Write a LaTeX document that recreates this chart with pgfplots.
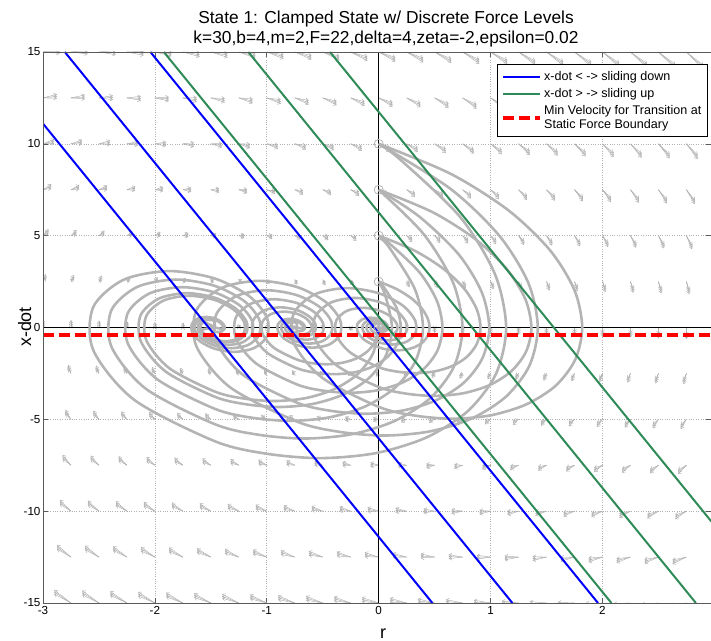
\documentclass[border=0pt]{standalone}
\usepackage{fontspec}
\setmainfont{Liberation Sans}
\usepackage{pgfplots}
\usepackage{pgfplotstable}
\pgfplotsset{compat=1.18}
\usetikzlibrary{arrows.meta}

\definecolor{trajgray}{RGB}{180,180,180}
\definecolor{fieldgray}{RGB}{175,175,175}
\definecolor{slideup}{RGB}{46,139,87}
\definecolor{spine}{RGB}{90,90,90}

% direction field: position, dr/dt and dv/dt for the three force levels
\pgfplotstableread{
x y u a b c
-3 -15 -0.15 0.75 0.64 0.53
-2.75 -15 -0.15 0.7125 0.6025 0.4925
-2.5 -15 -0.15 0.675 0.565 0.455
-2.25 -15 -0.15 0.6375 0.5275 0.4175
-2 -15 -0.15 0.6 0.49 0.38
-1.75 -15 -0.15 0.5625 0.4525 0.3425
-1.5 -15 -0.15 0.525 0.415 0.305
-1.25 -15 -0.15 0.4875 0.3775 0.2675
-1 -15 -0.15 0.45 0.34 0.23
-0.75 -15 -0.15 0.4125 0.3025 0.1925
-0.5 -15 -0.15 0.375 0.265 0.155
-0.25 -15 -0.15 0.3375 0.2275 0.1175
0 -15 -0.15 0.3 0.19 0.08
0.25 -15 -0.15 0.2625 0.1525 0.0425
0.5 -15 -0.15 0.225 0.115 0.005
0.75 -15 -0.15 0.1875 0.0775 -0.0325
1 -15 -0.15 0.15 0.04 -0.07
1.25 -15 -0.15 0.1125 0.0025 -0.1075
1.5 -15 -0.15 0.075 -0.035 -0.145
1.75 -15 -0.15 0.0375 -0.0725 -0.1825
2 -15 -0.15 0 -0.11 -0.22
2.25 -15 -0.15 -0.0375 -0.1475 -0.2575
2.5 -15 -0.15 -0.075 -0.185 -0.295
2.75 -15 -0.15 -0.1125 -0.2225 -0.3325
-3 -12.5 -0.125 0.7 0.59 0.48
-2.75 -12.5 -0.125 0.6625 0.5525 0.4425
-2.5 -12.5 -0.125 0.625 0.515 0.405
-2.25 -12.5 -0.125 0.5875 0.4775 0.3675
-2 -12.5 -0.125 0.55 0.44 0.33
-1.75 -12.5 -0.125 0.5125 0.4025 0.2925
-1.5 -12.5 -0.125 0.475 0.365 0.255
-1.25 -12.5 -0.125 0.4375 0.3275 0.2175
-1 -12.5 -0.125 0.4 0.29 0.18
-0.75 -12.5 -0.125 0.3625 0.2525 0.1425
-0.5 -12.5 -0.125 0.325 0.215 0.105
-0.25 -12.5 -0.125 0.2875 0.1775 0.0675
0 -12.5 -0.125 0.25 0.14 0.03
0.25 -12.5 -0.125 0.2125 0.1025 -0.0075
0.5 -12.5 -0.125 0.175 0.065 -0.045
0.75 -12.5 -0.125 0.1375 0.0275 -0.0825
1 -12.5 -0.125 0.1 -0.01 -0.12
1.25 -12.5 -0.125 0.0625 -0.0475 -0.1575
1.5 -12.5 -0.125 0.025 -0.085 -0.195
1.75 -12.5 -0.125 -0.0125 -0.1225 -0.2325
2 -12.5 -0.125 -0.05 -0.16 -0.27
2.25 -12.5 -0.125 -0.0875 -0.1975 -0.3075
2.5 -12.5 -0.125 -0.125 -0.235 -0.345
2.75 -12.5 -0.125 -0.1625 -0.2725 -0.3825
-3 -10 -0.1 0.65 0.54 0.43
-2.75 -10 -0.1 0.6125 0.5025 0.3925
-2.5 -10 -0.1 0.575 0.465 0.355
-2.25 -10 -0.1 0.5375 0.4275 0.3175
-2 -10 -0.1 0.5 0.39 0.28
-1.75 -10 -0.1 0.4625 0.3525 0.2425
-1.5 -10 -0.1 0.425 0.315 0.205
-1.25 -10 -0.1 0.3875 0.2775 0.1675
-1 -10 -0.1 0.35 0.24 0.13
-0.75 -10 -0.1 0.3125 0.2025 0.0925
-0.5 -10 -0.1 0.275 0.165 0.055
-0.25 -10 -0.1 0.2375 0.1275 0.0175
0 -10 -0.1 0.2 0.09 -0.02
0.25 -10 -0.1 0.1625 0.0525 -0.0575
0.5 -10 -0.1 0.125 0.015 -0.095
0.75 -10 -0.1 0.0875 -0.0225 -0.1325
1 -10 -0.1 0.05 -0.06 -0.17
1.25 -10 -0.1 0.0125 -0.0975 -0.2075
1.5 -10 -0.1 -0.025 -0.135 -0.245
1.75 -10 -0.1 -0.0625 -0.1725 -0.2825
2 -10 -0.1 -0.1 -0.21 -0.32
2.25 -10 -0.1 -0.1375 -0.2475 -0.3575
2.5 -10 -0.1 -0.175 -0.285 -0.395
2.75 -10 -0.1 -0.2125 -0.3225 -0.4325
-3 -7.5 -0.075 0.6 0.49 0.38
-2.75 -7.5 -0.075 0.5625 0.4525 0.3425
-2.5 -7.5 -0.075 0.525 0.415 0.305
-2.25 -7.5 -0.075 0.4875 0.3775 0.2675
-2 -7.5 -0.075 0.45 0.34 0.23
-1.75 -7.5 -0.075 0.4125 0.3025 0.1925
-1.5 -7.5 -0.075 0.375 0.265 0.155
-1.25 -7.5 -0.075 0.3375 0.2275 0.1175
-1 -7.5 -0.075 0.3 0.19 0.08
-0.75 -7.5 -0.075 0.2625 0.1525 0.0425
-0.5 -7.5 -0.075 0.225 0.115 0.005
-0.25 -7.5 -0.075 0.1875 0.0775 -0.0325
0 -7.5 -0.075 0.15 0.04 -0.07
0.25 -7.5 -0.075 0.1125 0.0025 -0.1075
0.5 -7.5 -0.075 0.075 -0.035 -0.145
0.75 -7.5 -0.075 0.0375 -0.0725 -0.1825
1 -7.5 -0.075 0 -0.11 -0.22
1.25 -7.5 -0.075 -0.0375 -0.1475 -0.2575
1.5 -7.5 -0.075 -0.075 -0.185 -0.295
1.75 -7.5 -0.075 -0.1125 -0.2225 -0.3325
2 -7.5 -0.075 -0.15 -0.26 -0.37
2.25 -7.5 -0.075 -0.1875 -0.2975 -0.4075
2.5 -7.5 -0.075 -0.225 -0.335 -0.445
2.75 -7.5 -0.075 -0.2625 -0.3725 -0.4825
-3 -5 -0.05 0.55 0.44 0.33
-2.75 -5 -0.05 0.5125 0.4025 0.2925
-2.5 -5 -0.05 0.475 0.365 0.255
-2.25 -5 -0.05 0.4375 0.3275 0.2175
-2 -5 -0.05 0.4 0.29 0.18
-1.75 -5 -0.05 0.3625 0.2525 0.1425
-1.5 -5 -0.05 0.325 0.215 0.105
-1.25 -5 -0.05 0.2875 0.1775 0.0675
-1 -5 -0.05 0.25 0.14 0.03
-0.75 -5 -0.05 0.2125 0.1025 -0.0075
-0.5 -5 -0.05 0.175 0.065 -0.045
-0.25 -5 -0.05 0.1375 0.0275 -0.0825
0 -5 -0.05 0.1 -0.01 -0.12
0.25 -5 -0.05 0.0625 -0.0475 -0.1575
0.5 -5 -0.05 0.025 -0.085 -0.195
0.75 -5 -0.05 -0.0125 -0.1225 -0.2325
1 -5 -0.05 -0.05 -0.16 -0.27
1.25 -5 -0.05 -0.0875 -0.1975 -0.3075
1.5 -5 -0.05 -0.125 -0.235 -0.345
1.75 -5 -0.05 -0.1625 -0.2725 -0.3825
2 -5 -0.05 -0.2 -0.31 -0.42
2.25 -5 -0.05 -0.2375 -0.3475 -0.4575
2.5 -5 -0.05 -0.275 -0.385 -0.495
2.75 -5 -0.05 -0.3125 -0.4225 -0.5325
-3 -2.5 -0.025 0.5 0.39 0.28
-2.75 -2.5 -0.025 0.4625 0.3525 0.2425
-2.5 -2.5 -0.025 0.425 0.315 0.205
-2.25 -2.5 -0.025 0.3875 0.2775 0.1675
-2 -2.5 -0.025 0.35 0.24 0.13
-1.75 -2.5 -0.025 0.3125 0.2025 0.0925
-1.5 -2.5 -0.025 0.275 0.165 0.055
-1.25 -2.5 -0.025 0.2375 0.1275 0.0175
-1 -2.5 -0.025 0.2 0.09 -0.02
-0.75 -2.5 -0.025 0.1625 0.0525 -0.0575
-0.5 -2.5 -0.025 0.125 0.015 -0.095
-0.25 -2.5 -0.025 0.0875 -0.0225 -0.1325
0 -2.5 -0.025 0.05 -0.06 -0.17
0.25 -2.5 -0.025 0.0125 -0.0975 -0.2075
0.5 -2.5 -0.025 -0.025 -0.135 -0.245
0.75 -2.5 -0.025 -0.0625 -0.1725 -0.2825
1 -2.5 -0.025 -0.1 -0.21 -0.32
1.25 -2.5 -0.025 -0.1375 -0.2475 -0.3575
1.5 -2.5 -0.025 -0.175 -0.285 -0.395
1.75 -2.5 -0.025 -0.2125 -0.3225 -0.4325
2 -2.5 -0.025 -0.25 -0.36 -0.47
2.25 -2.5 -0.025 -0.2875 -0.3975 -0.5075
2.5 -2.5 -0.025 -0.325 -0.435 -0.545
2.75 -2.5 -0.025 -0.3625 -0.4725 -0.5825
-3 0 0 0.45 0.34 0.23
-2.75 0 0 0.4125 0.3025 0.1925
-2.5 0 0 0.375 0.265 0.155
-2.25 0 0 0.3375 0.2275 0.1175
-2 0 0 0.3 0.19 0.08
-1.75 0 0 0.2625 0.1525 0.0425
-1.5 0 0 0.225 0.115 0.005
-1.25 0 0 0.1875 0.0775 -0.0325
-1 0 0 0.15 0.04 -0.07
-0.75 0 0 0.1125 0.0025 -0.1075
-0.5 0 0 0.075 -0.035 -0.145
-0.25 0 0 0.0375 -0.0725 -0.1825
0 0 0 0 -0.11 -0.22
0.25 0 0 -0.0375 -0.1475 -0.2575
0.5 0 0 -0.075 -0.185 -0.295
0.75 0 0 -0.1125 -0.2225 -0.3325
1 0 0 -0.15 -0.26 -0.37
1.25 0 0 -0.1875 -0.2975 -0.4075
1.5 0 0 -0.225 -0.335 -0.445
1.75 0 0 -0.2625 -0.3725 -0.4825
2 0 0 -0.3 -0.41 -0.52
2.25 0 0 -0.3375 -0.4475 -0.5575
2.5 0 0 -0.375 -0.485 -0.595
2.75 0 0 -0.4125 -0.5225 -0.6325
-3 2.5 0.025 0.4 0.29 0.18
-2.75 2.5 0.025 0.3625 0.2525 0.1425
-2.5 2.5 0.025 0.325 0.215 0.105
-2.25 2.5 0.025 0.2875 0.1775 0.0675
-2 2.5 0.025 0.25 0.14 0.03
-1.75 2.5 0.025 0.2125 0.1025 -0.0075
-1.5 2.5 0.025 0.175 0.065 -0.045
-1.25 2.5 0.025 0.1375 0.0275 -0.0825
-1 2.5 0.025 0.1 -0.01 -0.12
-0.75 2.5 0.025 0.0625 -0.0475 -0.1575
-0.5 2.5 0.025 0.025 -0.085 -0.195
-0.25 2.5 0.025 -0.0125 -0.1225 -0.2325
0 2.5 0.025 -0.05 -0.16 -0.27
0.25 2.5 0.025 -0.0875 -0.1975 -0.3075
0.5 2.5 0.025 -0.125 -0.235 -0.345
0.75 2.5 0.025 -0.1625 -0.2725 -0.3825
1 2.5 0.025 -0.2 -0.31 -0.42
1.25 2.5 0.025 -0.2375 -0.3475 -0.4575
1.5 2.5 0.025 -0.275 -0.385 -0.495
1.75 2.5 0.025 -0.3125 -0.4225 -0.5325
2 2.5 0.025 -0.35 -0.46 -0.57
2.25 2.5 0.025 -0.3875 -0.4975 -0.6075
2.5 2.5 0.025 -0.425 -0.535 -0.645
2.75 2.5 0.025 -0.4625 -0.5725 -0.6825
-3 5 0.05 0.35 0.24 0.13
-2.75 5 0.05 0.3125 0.2025 0.0925
-2.5 5 0.05 0.275 0.165 0.055
-2.25 5 0.05 0.2375 0.1275 0.0175
-2 5 0.05 0.2 0.09 -0.02
-1.75 5 0.05 0.1625 0.0525 -0.0575
-1.5 5 0.05 0.125 0.015 -0.095
-1.25 5 0.05 0.0875 -0.0225 -0.1325
-1 5 0.05 0.05 -0.06 -0.17
-0.75 5 0.05 0.0125 -0.0975 -0.2075
-0.5 5 0.05 -0.025 -0.135 -0.245
-0.25 5 0.05 -0.0625 -0.1725 -0.2825
0 5 0.05 -0.1 -0.21 -0.32
0.25 5 0.05 -0.1375 -0.2475 -0.3575
0.5 5 0.05 -0.175 -0.285 -0.395
0.75 5 0.05 -0.2125 -0.3225 -0.4325
1 5 0.05 -0.25 -0.36 -0.47
1.25 5 0.05 -0.2875 -0.3975 -0.5075
1.5 5 0.05 -0.325 -0.435 -0.545
1.75 5 0.05 -0.3625 -0.4725 -0.5825
2 5 0.05 -0.4 -0.51 -0.62
2.25 5 0.05 -0.4375 -0.5475 -0.6575
2.5 5 0.05 -0.475 -0.585 -0.695
2.75 5 0.05 -0.5125 -0.6225 -0.7325
-3 7.5 0.075 0.3 0.19 0.08
-2.75 7.5 0.075 0.2625 0.1525 0.0425
-2.5 7.5 0.075 0.225 0.115 0.005
-2.25 7.5 0.075 0.1875 0.0775 -0.0325
-2 7.5 0.075 0.15 0.04 -0.07
-1.75 7.5 0.075 0.1125 0.0025 -0.1075
-1.5 7.5 0.075 0.075 -0.035 -0.145
-1.25 7.5 0.075 0.0375 -0.0725 -0.1825
-1 7.5 0.075 0 -0.11 -0.22
-0.75 7.5 0.075 -0.0375 -0.1475 -0.2575
-0.5 7.5 0.075 -0.075 -0.185 -0.295
-0.25 7.5 0.075 -0.1125 -0.2225 -0.3325
0 7.5 0.075 -0.15 -0.26 -0.37
0.25 7.5 0.075 -0.1875 -0.2975 -0.4075
0.5 7.5 0.075 -0.225 -0.335 -0.445
0.75 7.5 0.075 -0.2625 -0.3725 -0.4825
1 7.5 0.075 -0.3 -0.41 -0.52
1.25 7.5 0.075 -0.3375 -0.4475 -0.5575
1.5 7.5 0.075 -0.375 -0.485 -0.595
1.75 7.5 0.075 -0.4125 -0.5225 -0.6325
2 7.5 0.075 -0.45 -0.56 -0.67
2.25 7.5 0.075 -0.4875 -0.5975 -0.7075
2.5 7.5 0.075 -0.525 -0.635 -0.745
2.75 7.5 0.075 -0.5625 -0.6725 -0.7825
-3 10 0.1 0.25 0.14 0.03
-2.75 10 0.1 0.2125 0.1025 -0.0075
-2.5 10 0.1 0.175 0.065 -0.045
-2.25 10 0.1 0.1375 0.0275 -0.0825
-2 10 0.1 0.1 -0.01 -0.12
-1.75 10 0.1 0.0625 -0.0475 -0.1575
-1.5 10 0.1 0.025 -0.085 -0.195
-1.25 10 0.1 -0.0125 -0.1225 -0.2325
-1 10 0.1 -0.05 -0.16 -0.27
-0.75 10 0.1 -0.0875 -0.1975 -0.3075
-0.5 10 0.1 -0.125 -0.235 -0.345
-0.25 10 0.1 -0.1625 -0.2725 -0.3825
0 10 0.1 -0.2 -0.31 -0.42
0.25 10 0.1 -0.2375 -0.3475 -0.4575
0.5 10 0.1 -0.275 -0.385 -0.495
0.75 10 0.1 -0.3125 -0.4225 -0.5325
1 10 0.1 -0.35 -0.46 -0.57
1.25 10 0.1 -0.3875 -0.4975 -0.6075
1.5 10 0.1 -0.425 -0.535 -0.645
1.75 10 0.1 -0.4625 -0.5725 -0.6825
2 10 0.1 -0.5 -0.61 -0.72
2.25 10 0.1 -0.5375 -0.6475 -0.7575
2.5 10 0.1 -0.575 -0.685 -0.795
2.75 10 0.1 -0.6125 -0.7225 -0.8325
-3 12.5 0.125 0.2 0.09 -0.02
-2.75 12.5 0.125 0.1625 0.0525 -0.0575
-2.5 12.5 0.125 0.125 0.015 -0.095
-2.25 12.5 0.125 0.0875 -0.0225 -0.1325
-2 12.5 0.125 0.05 -0.06 -0.17
-1.75 12.5 0.125 0.0125 -0.0975 -0.2075
-1.5 12.5 0.125 -0.025 -0.135 -0.245
-1.25 12.5 0.125 -0.0625 -0.1725 -0.2825
-1 12.5 0.125 -0.1 -0.21 -0.32
-0.75 12.5 0.125 -0.1375 -0.2475 -0.3575
-0.5 12.5 0.125 -0.175 -0.285 -0.395
-0.25 12.5 0.125 -0.2125 -0.3225 -0.4325
0 12.5 0.125 -0.25 -0.36 -0.47
0.25 12.5 0.125 -0.2875 -0.3975 -0.5075
0.5 12.5 0.125 -0.325 -0.435 -0.545
0.75 12.5 0.125 -0.3625 -0.4725 -0.5825
1 12.5 0.125 -0.4 -0.51 -0.62
1.25 12.5 0.125 -0.4375 -0.5475 -0.6575
1.5 12.5 0.125 -0.475 -0.585 -0.695
1.75 12.5 0.125 -0.5125 -0.6225 -0.7325
2 12.5 0.125 -0.55 -0.66 -0.77
2.25 12.5 0.125 -0.5875 -0.6975 -0.8075
2.5 12.5 0.125 -0.625 -0.735 -0.845
2.75 12.5 0.125 -0.6625 -0.7725 -0.8825
-3 15 0.15 0.15 0.04 -0.07
-2.75 15 0.15 0.1125 0.0025 -0.1075
-2.5 15 0.15 0.075 -0.035 -0.145
-2.25 15 0.15 0.0375 -0.0725 -0.1825
-2 15 0.15 0 -0.11 -0.22
-1.75 15 0.15 -0.0375 -0.1475 -0.2575
-1.5 15 0.15 -0.075 -0.185 -0.295
-1.25 15 0.15 -0.1125 -0.2225 -0.3325
-1 15 0.15 -0.15 -0.26 -0.37
-0.75 15 0.15 -0.1875 -0.2975 -0.4075
-0.5 15 0.15 -0.225 -0.335 -0.445
-0.25 15 0.15 -0.2625 -0.3725 -0.4825
0 15 0.15 -0.3 -0.41 -0.52
0.25 15 0.15 -0.3375 -0.4475 -0.5575
0.5 15 0.15 -0.375 -0.485 -0.595
0.75 15 0.15 -0.4125 -0.5225 -0.6325
1 15 0.15 -0.45 -0.56 -0.67
1.25 15 0.15 -0.4875 -0.5975 -0.7075
1.5 15 0.15 -0.525 -0.635 -0.745
1.75 15 0.15 -0.5625 -0.6725 -0.7825
2 15 0.15 -0.6 -0.71 -0.82
2.25 15 0.15 -0.6375 -0.7475 -0.8575
2.5 15 0.15 -0.675 -0.785 -0.895
2.75 15 0.15 -0.7125 -0.8225 -0.9325
}\fieldtab

\begin{document}
\begin{tikzpicture}
\useasboundingbox (0bp,0bp) rectangle (711bp,641bp);
\begin{axis}[
  at={(43bp,38bp)}, anchor=south west,
  scale only axis, width=668bp, height=551bp,
  xmin=-3, xmax=2.97, ymin=-15, ymax=15,
  axis line style={draw=none},
  xtick={-3,-2,-1,0,1,2}, ytick={-15,-10,-5,0,5,10,15},
  tick align=inside, major tick length=5bp,
  tick style={spine, line width=0.6bp},
  grid=major,
  major grid style={dotted, gray!60, line width=0.6bp},
  /pgf/number format/assume math mode=true,
  ticklabel style={font=\fontsize{11.7}{13}\selectfont},
  yticklabel style={xshift=1bp},
  legend style={at={(0.9955,0.978)}, anchor=north east,
    draw=black, line width=1.3bp, fill=white,
    font=\fontsize{12.6}{14}\selectfont,
    inner xsep=4bp, inner ysep=4.5bp, row sep=2.5bp,
    cells={anchor=west}},
  legend image code/.code={\draw[#1] (3bp,0bp) -- (40bp,0bp);},
]
% direction field arrows
\addplot[forget plot, fieldgray, line width=0.45bp, -{Straight Barb[length=2.8bp,width=3.8bp]},
  quiver={u=\thisrow{u}, v=\thisrow{a}}] table[x=x, y=y] {\fieldtab};
\addplot[forget plot, fieldgray, line width=0.45bp, -{Straight Barb[length=2.8bp,width=3.8bp]},
  quiver={u=\thisrow{u}, v=\thisrow{b}}] table[x=x, y=y] {\fieldtab};
\addplot[forget plot, fieldgray, line width=0.45bp, -{Straight Barb[length=2.8bp,width=3.8bp]},
  quiver={u=\thisrow{u}, v=\thisrow{c}}] table[x=x, y=y] {\fieldtab};

% coordinate axes through the origin
\addplot[forget plot, black, line width=1.2bp] coordinates {(-3,0) (3,0)};
\addplot[forget plot, black, line width=1.2bp] coordinates {(0,-15) (0,15)};

% phase trajectories, force level 0
\pgfplotsset{traj/.style={forget plot, trajgray, line width=2.6bp, smooth}}
\addplot[traj] coordinates {(0,10) (0.645,8.362) (1.162,6.368) (1.532,4.200) (1.750,2.030) (1.819,0.005) (1.756,-1.756) (1.582,-3.168) (1.322,-4.179) (1.007,-4.774) (0.664,-4.966) (0.320,-4.794) (0,-4.319) (-0.502,-2.750) (-0.756,-0.877) (-0.759,0.759) (-0.571,1.805) (-0.287,2.145) (0,1.865) (0.217,1.188) (0.326,0.379) (0.328,-0.328) (0.247,-0.780) (0.124,-0.926) (0,-0.806) (-0.094,-0.513) (-0.141,-0.164) (-0.141,0.141) (-0.107,0.337) (-0.053,0.400) (0,0.348) (0.040,0.222) (0.061,0.071) (0.061,-0.061) (0.046,-0.145) (0.023,-0.173) (0,-0.150) (0,0)};
\addplot[traj] coordinates {(0,7.5) (0.484,6.272) (0.871,4.776) (1.149,3.150) (1.312,1.522) (1.365,0.004) (1.317,-1.317) (1.186,-2.376) (0.992,-3.134) (0.755,-3.581) (0.498,-3.724) (0.240,-3.596) (0,-3.239) (-0.376,-2.063) (-0.567,-0.658) (-0.569,0.569) (-0.428,1.354) (-0.215,1.609) (0,1.399) (0.163,0.891) (0.245,0.284) (0.246,-0.246) (0.185,-0.585) (0.093,-0.695) (0,-0.604) (-0.070,-0.385) (-0.106,-0.123) (-0.106,0.106) (-0.080,0.253) (-0.040,0.300) (0,0.261) (0.030,0.166) (0.046,0.053) (0.046,-0.046) (0,0)};
\addplot[traj] coordinates {(0,5) (0.322,4.181) (0.581,3.184) (0.766,2.100) (0.875,1.015) (0.910,0.002) (0.878,-0.878) (0.791,-1.584) (0.661,-2.090) (0.503,-2.387) (0.332,-2.483) (0.160,-2.397) (0,-2.159) (-0.251,-1.375) (-0.378,-0.438) (-0.379,0.379) (-0.286,0.902) (-0.143,1.072) (0,0.933) (0.108,0.594) (0.163,0.189) (0.164,-0.164) (0.123,-0.390) (0.062,-0.463) (0,-0.403) (-0.047,-0.257) (-0.071,-0.082) (-0.071,0.071) (-0.053,0.168) (-0.027,0.200) (0,0.174) (0,0)};
\addplot[traj] coordinates {(0,2.5) (0.161,2.091) (0.291,1.592) (0.383,1.050) (0.437,0.508) (0.455,0.001) (0.439,-0.439) (0.396,-0.792) (0.331,-1.045) (0.252,-1.194) (0.166,-1.242) (0.080,-1.199) (0,-1.080) (-0.125,-0.688) (-0.189,-0.219) (-0.190,0.190) (-0.143,0.451) (-0.072,0.536) (0,0.466) (0.054,0.297) (0.082,0.095) (0.082,-0.082) (0.062,-0.195) (0.031,-0.232) (0,-0.201) (-0.023,-0.128) (-0.035,-0.041) (0,0)};
% phase trajectories, first force level
\addplot[traj] coordinates {(0,10) (0.643,7.543) (1.081,4.975) (1.339,2.404) (1.422,0.006) (1.347,-2.080) (1.140,-3.752) (0.833,-4.950) (0.459,-5.655) (0.053,-5.882) (-0.354,-5.679) (-0.733,-5.116) (-1.328,-3.257) (-1.628,-1.038) (-1.632,0.898) (-1.410,2.138) (-1.073,2.540) (-0.733,2.209) (-0.477,1.407) (-0.347,0.448) (-0.345,-0.388) (-0.441,-0.923) (-0.587,-1.097) (-0.733,-0.954) (-0.844,-0.608) (-0.900,-0.194) (-0.901,0.168) (-0.860,0.399) (-0.797,0.474) (-0.733,0.412) (-0.685,0.262) (-0.661,0.084) (-0.661,-0.072) (-0.679,-0.172) (-0.706,-0.205) (-0.733,-0.178) (-0.733,0)};
\addplot[traj] coordinates {(0,7.5) (0.366,6.023) (0.716,3.972) (0.921,1.920) (0.988,0.005) (0.928,-1.661) (0.763,-2.996) (0.517,-3.953) (0.219,-4.515) (-0.106,-4.697) (-0.430,-4.534) (-0.733,-4.085) (-1.208,-2.601) (-1.448,-0.829) (-1.451,0.717) (-1.274,1.707) (-1.005,2.028) (-0.733,1.764) (-0.528,1.123) (-0.425,0.358) (-0.424,-0.310) (-0.500,-0.737) (-0.616,-0.876) (-0.733,-0.762) (-0.822,-0.485) (-0.867,-0.155) (-0.867,0.134) (-0.834,0.318) (-0.784,0.378) (-0.733,0.329) (-0.695,0.210) (-0.676,0.067) (-0.676,-0.058) (-0.733,0)};
\addplot[traj] coordinates {(0,5) (0.099,4.560) (0.364,3.008) (0.520,1.454) (0.570,0.003) (0.525,-1.258) (0.400,-2.269) (0.214,-2.993) (-0.012,-3.419) (-0.258,-3.556) (-0.504,-3.433) (-0.733,-3.093) (-1.093,-1.969) (-1.274,-0.628) (-1.277,0.543) (-1.142,1.293) (-0.939,1.536) (-0.733,1.336) (-0.578,0.851) (-0.500,0.271) (-0.499,-0.235) (-0.557,-0.558) (-0.645,-0.663) (-0.733,-0.577) (-0.800,-0.367) (-0.834,-0.117) (-0.835,0.101) (-0.810,0.241) (-0.772,0.286) (-0.733,0.249) (-0.733,0)};
\addplot[traj] coordinates {(0,2.5) (0.051,2.150) (0.162,1.039) (0.198,0.002) (0.166,-0.899) (0.076,-1.621) (-0.057,-2.139) (-0.218,-2.443) (-0.394,-2.541) (-0.569,-2.454) (-0.733,-2.210) (-0.990,-1.407) (-1.120,-0.449) (-1.122,0.388) (-1.026,0.924) (-0.880,1.098) (-0.733,0.955) (-0.622,0.608) (-0.566,0.194) (-0.566,-0.168) (-0.607,-0.399) (-0.670,-0.474) (-0.733,-0.412) (-0.781,-0.262) (-0.805,-0.084) (-0.806,0.072) (-0.733,0)};
\addplot[traj] coordinates {(0,0) (-0.025,-0.708) (-0.096,-1.277) (-0.200,-1.685) (-0.328,-1.924) (-0.466,-2.002) (-0.604,-1.933) (-0.733,-1.741) (-0.936,-1.108) (-1.038,-0.353) (-1.039,0.306) (-0.964,0.728) (-0.849,0.864) (-0.733,0.752) (-0.646,0.479) (-0.602,0.153) (-0.601,-0.132) (-0.634,-0.314) (-0.683,-0.373) (-0.733,-0.325) (-0.771,-0.207) (-0.790,-0.066) (-0.733,0)};
% phase trajectories, second force level
\addplot[traj] coordinates {(0,10) (0.197,9.120) (0.728,6.016) (1.039,2.907) (1.139,0.007) (1.049,-2.516) (0.799,-4.537) (0.427,-5.986) (-0.025,-6.838) (-0.516,-7.112) (-1.008,-6.867) (-1.467,-6.186) (-2.185,-3.939) (-2.549,-1.256) (-2.553,1.086) (-2.285,2.585) (-1.877,3.072) (-1.467,2.671) (-1.156,1.701) (-0.999,0.542) (-0.997,-0.469) (-1.113,-1.117) (-1.289,-1.327) (-1.467,-1.154) (-1.601,-0.735) (-1.668,-0.234) (-1.669,0.203) (-1.619,0.482) (-1.543,0.573) (-1.467,0.498) (-1.409,0.317) (-1.380,0.101) (-1.379,-0.088) (-1.401,-0.208) (-1.434,-0.247) (-1.467,-0.215) (-1.467,0)};
\addplot[traj] coordinates {(0,7.5) (0.398,5.114) (0.663,2.471) (0.749,0.006) (0.672,-2.138) (0.459,-3.857) (0.143,-5.088) (-0.241,-5.812) (-0.659,-6.046) (-1.077,-5.837) (-1.467,-5.258) (-2.078,-3.348) (-2.387,-1.067) (-2.390,0.923) (-2.162,2.197) (-1.816,2.611) (-1.467,2.271) (-1.203,1.446) (-1.069,0.461) (-1.068,-0.399) (-1.166,-0.949) (-1.316,-1.128) (-1.467,-0.981) (-1.581,-0.624) (-1.638,-0.199) (-1.639,0.172) (-1.596,0.410) (-1.532,0.487) (-1.467,0.424) (-1.418,0.270) (-1.393,0.086) (-1.392,-0.074) (-1.467,0)};
\addplot[traj] coordinates {(0,5) (0.101,4.299) (0.324,2.078) (0.396,0.005) (0.331,-1.798) (0.153,-3.242) (-0.113,-4.278) (-0.436,-4.887) (-0.787,-5.083) (-1.139,-4.907) (-1.467,-4.421) (-1.980,-2.815) (-2.240,-0.897) (-2.243,0.776) (-2.051,1.847) (-1.760,2.195) (-1.467,1.909) (-1.245,1.216) (-1.133,0.388) (-1.131,-0.335) (-1.214,-0.798) (-1.340,-0.948) (-1.467,-0.825) (-1.562,-0.525) (-1.611,-0.167) (-1.611,0.145) (-1.576,0.345) (-1.521,0.409) (-1.467,0.356) (-1.467,0)};
\addplot[traj] coordinates {(0,2.5) (0.058,1.769) (0.119,0.004) (0.064,-1.531) (-0.088,-2.761) (-0.314,-3.643) (-0.589,-4.162) (-0.888,-4.329) (-1.187,-4.179) (-1.467,-3.765) (-1.904,-2.397) (-2.125,-0.764) (-2.128,0.661) (-1.965,1.573) (-1.717,1.869) (-1.467,1.626) (-1.278,1.035) (-1.182,0.330) (-1.181,-0.286) (-1.252,-0.680) (-1.359,-0.807) (-1.467,-0.702) (-1.548,-0.447) (-1.590,-0.143) (-1.590,0.123) (-1.560,0.293) (-1.467,0)};
\addplot[traj] coordinates {(0,0) (-0.051,-1.416) (-0.191,-2.554) (-0.401,-3.369) (-0.655,-3.849) (-0.932,-4.003) (-1.208,-3.865) (-1.467,-3.482) (-1.871,-2.217) (-2.076,-0.707) (-2.078,0.612) (-1.927,1.455) (-1.698,1.729) (-1.467,1.504) (-1.292,0.958) (-1.204,0.305) (-1.203,-0.264) (-1.268,-0.628) (-1.367,-0.747) (-1.467,-0.649) (-1.542,-0.414) (-1.580,-0.132) (-1.467,0)};

% starting states
\addplot[forget plot, only marks, mark=o, mark size=4.5bp, trajgray, mark options={line width=0.8bp}]
  coordinates {(0,0) (0,2.5) (0,5) (0,7.5) (0,10)};

% sliding-down thresholds (slope -k/b)
\addplot[blue, line width=2bp] coordinates {(-3.52,15) (0.48,-15)};
\addlegendentry{x-dot < -> sliding down}
\addplot[forget plot, blue, line width=2bp] coordinates {(-2.805,15) (1.195,-15)};
\addplot[forget plot, blue, line width=2bp] coordinates {(-2.04,15) (1.96,-15)};
% sliding-up thresholds
\addplot[slideup, line width=2bp] coordinates {(-1.92,15) (2.08,-15)};
\addlegendentry{x-dot > -> sliding up}
\addplot[forget plot, slideup, line width=2bp] coordinates {(-1.165,15) (2.835,-15)};
\addplot[forget plot, slideup, line width=2bp] coordinates {(-0.435,15) (3.565,-15)};
% minimum transition velocity
\addplot[red, line width=4bp, dash pattern=on 11bp off 5bp] coordinates {(-3,-0.4) (3,-0.4)};
\addlegendentry[align=left]{Min Velocity for Transition at\\Static Force Boundary}
\end{axis}
% axis frame: left, bottom and top edges
\draw[spine, line width=0.8bp] (current axis.south east) -- (current axis.south west) -- (current axis.north west) -- (current axis.north east);
% titles and labels
\node[font=\fontsize{17.4}{20}\selectfont, anchor=base] at (386bp,617bp) {State 1: Clamped State w/ Discrete Force Levels};
\node[font=\fontsize{17.4}{20}\selectfont, anchor=base] at (386bp,597bp) {k=30,b=4,m=2,F=22,delta=4,zeta=-2,epsilon=0.02};
\node[font=\fontsize{18}{20}\selectfont, anchor=base] at (383bp,3bp) {r};
\node[font=\fontsize{18}{20}\selectfont, anchor=base, rotate=90] at (31bp,314bp) {x-dot};
\end{tikzpicture}
\end{document}
